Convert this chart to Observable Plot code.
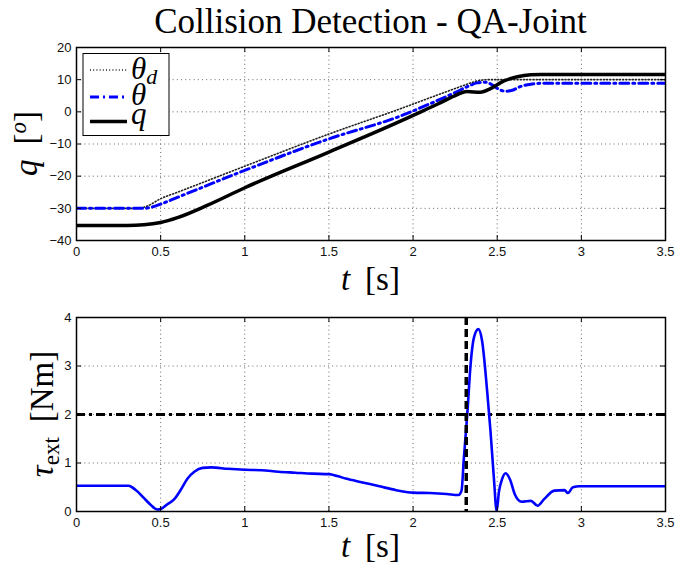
<!DOCTYPE html>
<html><head><meta charset="utf-8">
<script src="https://cdn.jsdelivr.net/npm/d3@7"></script>
<script src="https://cdn.jsdelivr.net/npm/@observablehq/plot@0.6"></script>
<style>
body{margin:0;background:#fff;}
#chart{position:relative;width:675px;height:568px;overflow:hidden;background:#fff;}
#chart svg{position:absolute;left:0;}
</style></head><body><div id="chart"></div>
<script>
// ---- data ----
const titleText = "Collision Detection - QA-Joint";
const xTicks = [0, 0.5, 1, 1.5, 2, 2.5, 3, 3.5];
const qTicks = [-40, -30, -20, -10, 0, 10, 20];
const tauTicks = [0, 1, 2, 3, 4];

const tThetaD = [0, 0.35, 0.42, 0.5, 0.6, 1.0, 1.5, 1.9, 2.2, 2.3, 2.36, 2.4, 2.45, 3.5];
const thetaD  = [-30, -30, -29.3, -27.0, -25.0, -16.9, -6.9, 0.5, 6.3, 8.2, 9.3, 9.8, 10, 10];

const tTheta = [0, 0.4, 0.45, 0.5, 0.6, 1.0, 1.5, 1.925, 2.1, 2.25, 2.33, 2.38, 2.43, 2.47, 2.51, 2.55, 2.59, 2.64, 2.7, 2.78, 3.5];
const theta  = [-30, -30, -29.6, -28.7, -26.6, -18.2, -8.4, -1.3, 2.5, 6.0, 8.0, 9.0, 9.2, 8.4, 7.0, 6.4, 6.7, 7.9, 8.6, 8.9, 8.9];

const tQ = [0, 0.3, 0.4, 0.5, 0.6, 0.776, 1.0, 1.5, 1.925, 2.0, 2.15, 2.26, 2.32, 2.4, 2.46, 2.54, 2.62, 2.7, 2.76, 3.5];
const qv = [-35.3, -35.3, -35.1, -34.4, -32.9, -29.1, -23.6, -12.5, -2.9, -1.1, 2.5, 5.3, 6.3, 6.1, 7.2, 9.6, 10.9, 11.5, 11.6, 11.6];

const tTau = [0, 0.31, 0.33, 0.36, 0.40, 0.44, 0.48, 0.50, 0.54, 0.58, 0.62, 0.66, 0.70, 0.75, 0.80, 0.9, 1.0, 1.1, 1.2, 1.3, 1.4, 1.5, 1.55, 1.6, 1.7, 1.8, 1.9, 2.0, 2.1, 2.2, 2.27, 2.288, 2.302, 2.322, 2.342, 2.362, 2.388, 2.41, 2.44, 2.46, 2.48, 2.497, 2.51, 2.53, 2.55, 2.576, 2.605, 2.645, 2.70, 2.74, 2.78, 2.84, 2.90, 2.92, 2.95, 2.99, 3.5];
const tau  = [0.53, 0.53, 0.50, 0.42, 0.28, 0.14, 0.04, 0.05, 0.15, 0.25, 0.45, 0.68, 0.82, 0.90, 0.91, 0.88, 0.86, 0.85, 0.82, 0.80, 0.78, 0.77, 0.73, 0.68, 0.60, 0.52, 0.44, 0.39, 0.38, 0.36, 0.34, 0.43, 1.11, 2.0, 3.04, 3.59, 3.76, 3.52, 2.49, 1.66, 0.70, 0.01, 0.40, 0.68, 0.79, 0.66, 0.35, 0.20, 0.22, 0.12, 0.26, 0.43, 0.44, 0.38, 0.50, 0.52, 0.52];

const tauThreshold = [2];
const tDetect = [2.316];

const legendLabels = ["θ", "θ", "q"];
// ---------------------------------------

const zip = (t, v) => t.map((d, i) => ({t: d, v: v[i]}));
const fmt = d => d < 0 ? "\u2212" + Math.abs(d) : String(d);
const BLUE = "#0000ff";
const W = 675, ML = 76, MR = 10;
const PW = W - ML - MR;
const style = {fontFamily: "'Liberation Sans', Arial, sans-serif", fontSize: "13px", background: "white", color: "#111"};
const gridStyle = {stroke: "#666", strokeDasharray: "1,3.2", strokeWidth: 1};

function common(yTicks) {
  return [
    Plot.ruleX(xTicks.slice(1, -1), {x: d => d, ...gridStyle}),
    Plot.ruleY(yTicks.slice(1, -1), {y: d => d, ...gridStyle}),
  ];
}
function frameAxes(yTicks, ph) {
  return [
    Plot.ruleX(xTicks, {x: d => d, insetTop: ph - 5, stroke: "#000", strokeWidth: 1}),
    Plot.ruleX(xTicks, {x: d => d, insetBottom: ph - 5, stroke: "#000", strokeWidth: 1}),
    Plot.ruleY(yTicks, {y: d => d, insetRight: PW - 5, stroke: "#000", strokeWidth: 1}),
    Plot.ruleY(yTicks, {y: d => d, insetLeft: PW - 5, stroke: "#000", strokeWidth: 1}),
    Plot.frame({stroke: "#000", strokeWidth: 1.5}),
    Plot.axisX(xTicks, {anchor: "bottom", tickSize: 0, tickPadding: 6, tickFormat: fmt, label: null}),
    Plot.axisY(yTicks, {anchor: "left", tickSize: 0, tickPadding: 5, tickFormat: fmt, label: null}),
  ];
}

// ---- top panel ----
const H1 = 300, MT1 = 47, MB1 = 60, PH1 = H1 - MT1 - MB1;
const p1 = Plot.plot({
  width: W, height: H1, marginTop: MT1, marginBottom: MB1, marginLeft: ML, marginRight: MR,
  style,
  x: {domain: [0, 3.5]},
  y: {domain: [-40, 20]},
  marks: [
    ...common(qTicks),
    Plot.line(zip(tThetaD, thetaD), {x: "t", y: "v", curve: "monotone-x", stroke: "#222", strokeWidth: 1.6, strokeDasharray: "1,2.2", clip: true}),
    Plot.line(zip(tTheta, theta), {x: "t", y: "v", curve: "monotone-x", stroke: BLUE, strokeWidth: 3, strokeDasharray: "9,4,2,4", clip: true}),
    Plot.line(zip(tQ, qv), {x: "t", y: "v", curve: "monotone-x", stroke: "#000", strokeWidth: 3.5, clip: true}),
    ...frameAxes(qTicks, PH1),
  ]
});
p1.style.top = "0px";

// ---- bottom panel ----
const H2 = 268, MT2 = 17, MB2 = 57, PH2 = H2 - MT2 - MB2;
const p2 = Plot.plot({
  width: W, height: H2, marginTop: MT2, marginBottom: MB2, marginLeft: ML, marginRight: MR,
  style,
  x: {domain: [0, 3.5]},
  y: {domain: [0, 4]},
  marks: [
    ...common(tauTicks),
    Plot.ruleY(tauThreshold, {y: d => d, stroke: "#000", strokeWidth: 3, strokeDasharray: "9,4,3,4"}),
    Plot.line(zip(tTau, tau), {x: "t", y: "v", curve: "monotone-x", stroke: BLUE, strokeWidth: 2.6, clip: true}),
    Plot.ruleX(tDetect, {x: d => d, stroke: "#000", strokeWidth: 3.5, strokeDasharray: "8,4"}),
    ...frameAxes(tauTicks, PH2),
  ]
});
p2.style.top = "300px";

const chart = document.getElementById("chart");
chart.appendChild(p1);
chart.appendChild(p2);

const SERIF = "'Liberation Serif', 'Times New Roman', serif";
function txt(sel, anchor) {
  return sel.append("text").attr("text-anchor", anchor).attr("fill", "#000")
    .style("font-family", SERIF);
}

// title
const s1 = d3.select(p1);
txt(s1, "middle").attr("x", ML + PW / 2).attr("y", 33).style("font-size", "35px").text(titleText);

// x labels
function xLabel(sel, y) {
  const t = txt(sel, "middle").attr("x", ML + PW / 2).attr("y", y).style("font-size", "33px");
  t.append("tspan").style("font-style", "italic").text("t");
  t.append("tspan").text("\u2009 [s]");
}
xLabel(s1, 290);
const s2 = d3.select(p2);
xLabel(s2, 257);

// y labels
const yl1 = txt(s1, "middle").attr("transform", `translate(37,${MT1 + PH1 / 2}) rotate(-90)`).style("font-size", "33px");
yl1.append("tspan").style("font-style", "italic").text("q");
yl1.append("tspan").text("\u2009 [");
yl1.append("tspan").style("font-style", "italic").style("font-size", "23px").attr("dy", -11).text("o");
yl1.append("tspan").attr("dy", 11).text("]");

const yl2 = txt(s2, "middle").attr("transform", `translate(53,${MT2 + PH2 / 2}) rotate(-90)`).style("font-size", "33px");
yl2.append("tspan").style("font-style", "italic").text("τ");
yl2.append("tspan").style("font-size", "23px").attr("dy", 6).text("ext");
yl2.append("tspan").attr("dy", -6).text("\u2009 [Nm]");

// legend
const lg = s1.append("g");
lg.append("rect").attr("x", 83).attr("y", 53.5).attr("width", 86).attr("height", 82)
  .attr("fill", "#fff").attr("stroke", "#000").attr("stroke-width", 1);
const sw = [
  {y: 70, stroke: "#222", w: 1.6, dash: "1,2.2"},
  {y: 97, stroke: BLUE, w: 3, dash: "9,4,2,4"},
  {y: 121.5, stroke: "#000", w: 3.5, dash: null},
];
sw.forEach(s => {
  lg.append("line").attr("x1", 90).attr("x2", 127).attr("y1", s.y).attr("y2", s.y)
    .attr("stroke", s.stroke).attr("stroke-width", s.w).attr("stroke-dasharray", s.dash);
});
const lt1 = txt(lg, "start").attr("x", 131).attr("y", 79).style("font-size", "31px").style("font-style", "italic");
lt1.append("tspan").text(legendLabels[0]);
lt1.append("tspan").style("font-size", "22px").attr("dy", 5).text("d");
txt(lg, "start").attr("x", 131).attr("y", 105).style("font-size", "31px").style("font-style", "italic").text(legendLabels[1]);
txt(lg, "start").attr("x", 131).attr("y", 124).style("font-size", "31px").style("font-style", "italic").text(legendLabels[2]);
</script></body></html>
